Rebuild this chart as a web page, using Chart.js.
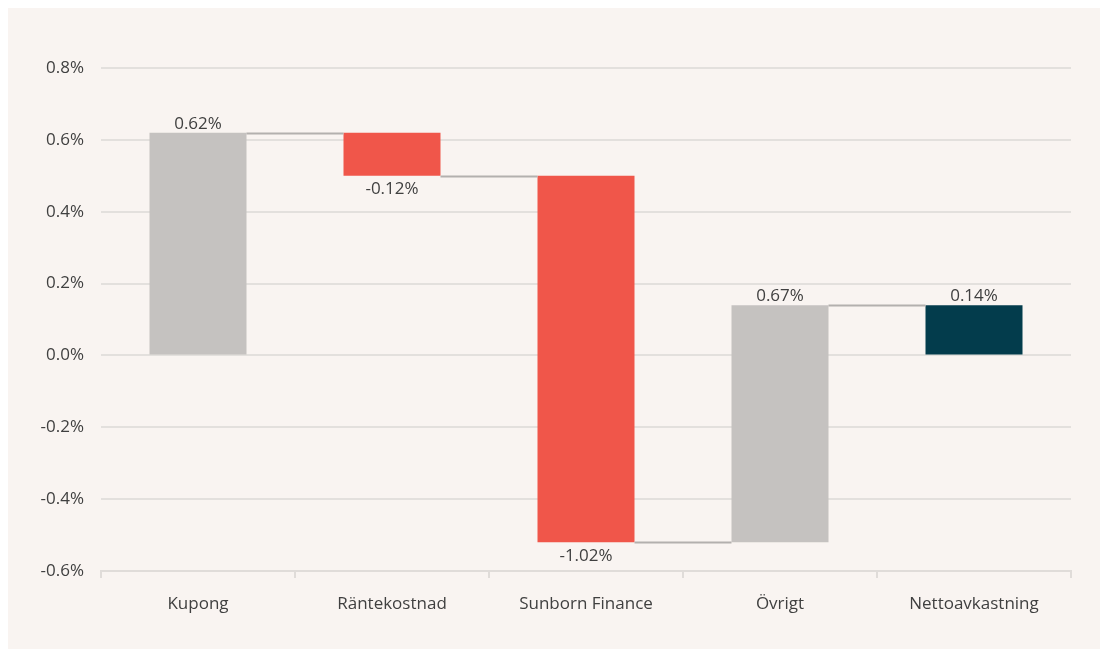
<!DOCTYPE html>
<html>
<head>
<meta charset="utf-8">
<script src="https://cdn.jsdelivr.net/npm/chart.js@4"></script>
<style>
  html, body { margin: 0; padding: 0; background: #ffffff; }
  #wrap { width: 1100px; height: 649px; }
</style>
</head>
<body>
<div id="wrap"><canvas id="graficoCascada"></canvas></div>
<script>
// kategorier och värden (procent)
const categories = ['Kupong', 'Räntekostnad', 'Sunborn Finance', 'Övrigt', 'Nettoavkastning'];
const barStart = [0, 0.62, 0.50, -0.52, 0];
const barEnd = [0.62, 0.50, -0.52, 0.14, 0.14];
const valueLabels = ['0.62%', '-0.12%', '-1.02%', '0.67%', '0.14%'];
const barColors = ['#c5c2c0', '#f0564a', '#f0564a', '#c5c2c0', '#033c4c'];
const yTicks = [-0.6, -0.4, -0.2, 0.0, 0.2, 0.4, 0.6, 0.8];

const FONT = "'Open Sans', 'Noto Sans', sans-serif";
const TEXT = '#404040';

// bakgrundspanel
const panelPlugin = {
  id: 'panel',
  beforeDraw(chart) {
    const ctx = chart.ctx;
    ctx.save();
    ctx.fillStyle = '#f9f4f1';
    ctx.fillRect(8, 8, chart.width - 8, chart.height - 8);
    ctx.restore();
  }
};

// linjer mellan staplarna + etiketter
const waterfallPlugin = {
  id: 'waterfall',
  afterDatasetsDraw(chart) {
    const ctx = chart.ctx;
    const meta = chart.getDatasetMeta(0);
    const y = chart.scales.y;
    ctx.save();
    ctx.strokeStyle = '#b3b0ae';
    ctx.lineWidth = 2;
    for (let i = 0; i < meta.data.length - 1; i++) {
      const a = meta.data[i], b = meta.data[i + 1];
      const py = Math.round(y.getPixelForValue(barEnd[i])) + 0.5;
      ctx.beginPath();
      ctx.moveTo(a.x + a.width / 2, py);
      ctx.lineTo(b.x - b.width / 2, py);
      ctx.stroke();
    }
    ctx.fillStyle = TEXT;
    ctx.font = '17px ' + FONT;
    ctx.textAlign = 'center';
    meta.data.forEach((bar, i) => {
      const up = barEnd[i] >= barStart[i];
      const top = y.getPixelForValue(Math.max(barStart[i], barEnd[i]));
      const bottom = y.getPixelForValue(Math.min(barStart[i], barEnd[i]));
      if (up) {
        ctx.textBaseline = 'bottom';
        ctx.fillText(valueLabels[i], bar.x, top);
      } else {
        ctx.textBaseline = 'top';
        ctx.fillText(valueLabels[i], bar.x, bottom + 5);
      }
    });
    ctx.restore();
  }
};

const CASCADA = document.getElementById('graficoCascada');

let graficoCascada = new Chart(CASCADA, {
  type: 'bar',
  data: {
    labels: categories,
    datasets: [{
      data: barStart.map((s, i) => [s, barEnd[i]]),
      backgroundColor: barColors,
      borderWidth: 0,
      categoryPercentage: 1,
      barPercentage: 0.5
    }]
  },
  options: {
    responsive: true,
    maintainAspectRatio: false,
    animation: false,
    layout: { padding: { top: 68, right: 29, bottom: 0, left: 0 } },
    plugins: {
      legend: { display: false },
      tooltip: { enabled: false }
    },
    scales: {
      x: {
        grid: {
          offset: true,
          drawOnChartArea: false,
          color: '#e0dcd9',
          lineWidth: 2,
          tickLength: 7
        },
        border: { color: '#e0dcd9', width: 2 },
        ticks: { color: TEXT, font: { family: FONT, size: 17 }, padding: 16 },
        afterFit(s) { s.height = 78; }
      },
      y: {
        min: -0.6,
        max: 0.8,
        afterBuildTicks(s) { s.ticks = yTicks.map(v => ({ value: v })); },
        grid: { color: '#e3e0dd', lineWidth: 2, drawTicks: false },
        border: { display: false },
        ticks: {
          color: TEXT,
          font: { family: FONT, size: 17 },
          padding: 17,
          callback: v => v.toFixed(1) + '%'
        },
        afterFit(s) { s.width = 101; }
      }
    }
  },
  plugins: [panelPlugin, waterfallPlugin]
});
</script>
</body>
</html>
